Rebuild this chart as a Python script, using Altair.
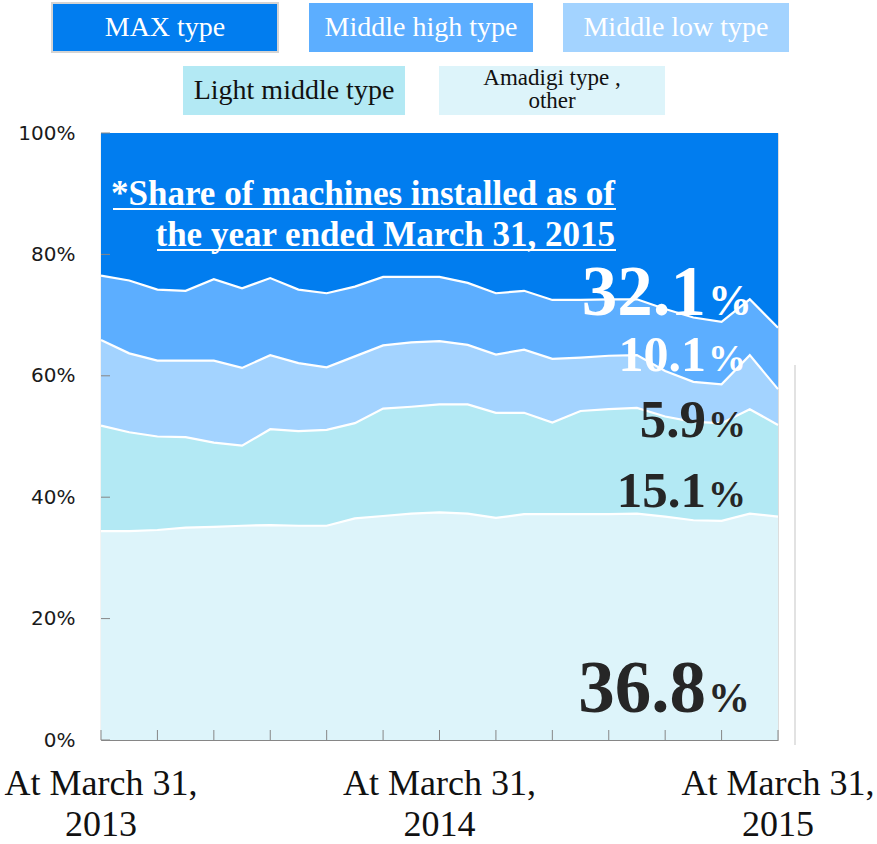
import altair as alt
import pandas as pd

# ---- data (monthly, March 2013 .. March 2015) ----
month_index = list(range(25))
categories = ["MAX type", "Middle high type", "Middle low type",
              "Light middle type", "Amadigi type , other"]
max_type = [23.5, 24.3, 25.8, 26.0, 24.1, 25.6, 23.9, 25.8, 26.4, 25.3, 23.7, 23.7, 23.7,
            24.7, 26.4, 26.0, 27.5, 27.5, 27.4, 27.4, 29.0, 30.4, 31.1, 27.4, 32.1]
middle_high = [10.6, 12.0, 11.7, 11.5, 13.4, 13.1, 12.7, 12.1, 12.2, 11.5, 11.3, 10.8, 10.6,
               10.2, 10.1, 9.7, 9.7, 9.5, 9.3, 9.2, 10.2, 10.6, 10.3, 9.2, 10.1]
middle_low = [14.1, 13.0, 12.5, 12.6, 13.5, 12.8, 12.2, 11.2, 10.3, 11.0, 10.4, 10.6, 10.4,
              9.8, 9.6, 10.4, 10.5, 8.8, 8.8, 8.7, 7.5, 6.6, 6.4, 8.9, 5.9]
light_middle = [17.4, 16.3, 15.4, 14.9, 13.9, 13.2, 15.8, 15.6, 15.8, 15.7, 17.7, 17.6, 17.8,
                18.0, 17.3, 16.7, 15.1, 17.0, 17.3, 17.4, 16.5, 16.2, 16.1, 17.2, 15.1]
amadigi = [34.4, 34.4, 34.6, 35.0, 35.1, 35.3, 35.4, 35.3, 35.3, 36.5, 36.9, 37.3, 37.5,
           37.3, 36.6, 37.2, 37.2, 37.2, 37.2, 37.3, 36.8, 36.2, 36.1, 37.3, 36.8]
x_tick_values = list(range(0, 25, 2))
y_tick_values = [0, 0.2, 0.4, 0.6, 0.8, 1.0]
x_label_pos = [0, 12, 24]
x_label_text = ["At March 31,\n2013", "At March 31,\n2014", "At March 31,\n2015"]
note_lines = ["*Share of machines installed as of", "the year ended March 31, 2015"]
legend_labels = ["MAX type", "Middle high type", "Middle low type",
                 "Light middle type", "Amadigi type ,\nother"]

series = [max_type, middle_high, middle_low, light_middle, amadigi]
colors = ["#017DEF", "#5CAEFF", "#A3D3FF", "#B3E9F4", "#DDF4FA"]

rows = []
for ci, (cat, vals) in enumerate(zip(categories, series)):
    for m, v in zip(month_index, vals):
        rows.append({"month": m, "type": cat, "share": v, "ord": 4 - ci})
df = pd.DataFrame(rows)

W, H = 677, 607
xs = alt.Scale(domain=[0, 24], nice=False, zero=False)
ys = alt.Scale(domain=[0, 1], nice=False)
AX = "#868686"

area = alt.Chart(df).mark_area(opacity=1, interpolate="linear").encode(
    x=alt.X("month:Q", scale=xs,
            axis=alt.Axis(labels=False, ticks=False, grid=False, title=None,
                          domainColor=AX, domainWidth=1.2)),
    y=alt.Y("share:Q", stack="normalize", scale=ys,
            axis=alt.Axis(format=".0%", values=y_tick_values, ticks=False, grid=False,
                          title=None, domainColor=AX, domainWidth=1.2,
                          labelFont="DejaVu Sans", labelFontSize=20, labelColor="#1a1a1a",
                          labelPadding=26)),
    color=alt.Color("type:N", scale=alt.Scale(domain=categories, range=colors), legend=None),
    order=alt.Order("ord:Q"),
)

# white boundary lines on top of each stacked band
bounds = alt.Chart(df).transform_joinaggregate(
    total="sum(share)", groupby=["month"]
).transform_window(
    cum="sum(share)", groupby=["month"], sort=[alt.SortField("ord")], frame=[None, 0]
).transform_calculate(
    top="datum.cum / datum.total"
).transform_filter("datum.ord < 4").mark_line(color="white", strokeWidth=2.2).encode(
    x=alt.X("month:Q", scale=xs),
    y=alt.Y("top:Q", scale=ys),
    detail="type:N",
)

xt = alt.Chart(pd.DataFrame({"m": x_tick_values})).mark_rule(color=AX, strokeWidth=1).encode(
    x=alt.X("m:Q", scale=xs), y=alt.value(H), y2=alt.value(H - 10))
yt = alt.Chart(pd.DataFrame({"v": y_tick_values})).mark_rule(color=AX, strokeWidth=1).encode(
    y=alt.Y("v:Q", scale=ys), x=alt.value(0), x2=alt.value(9))

xl = alt.Chart(pd.DataFrame({"m": x_label_pos, "t": x_label_text})).mark_text(
    font="Liberation Serif", fontSize=36, lineBreak="\n", lineHeight=41,
    align="center", baseline="alphabetic", color="#111111"
).encode(x=alt.X("m:Q", scale=xs), y=alt.value(662), text="t:N")

layers = [area, bounds, xt, yt, xl]

# note text (underlined)
note_y = [72, 113]
for line, yy in zip(note_lines, note_y):
    layers.append(alt.Chart(pd.DataFrame({"t": [line]})).mark_text(
        font="Liberation Serif", fontSize=35, fontWeight="bold", color="white",
        align="right", baseline="alphabetic").encode(
        x=alt.value(514), y=alt.value(yy), text="t:N"))
for (x0, yy) in [(12, 76), (56, 117)]:
    layers.append(alt.Chart(pd.DataFrame({"a": [0]})).mark_rule(color="white", strokeWidth=2).encode(
        x=alt.value(x0), x2=alt.value(515), y=alt.value(yy)))

# end-of-period share labels (from last values)
end_vals = [s[-1] for s in series]
end_base = [182, 238, 304, 374, 579]
end_size = [71, 50, 53, 51, 73]
pct_size = [44, 38, 38, 38, 42]
end_color = ["white", "white", "#262626", "#262626", "#262626"]
for v, yb, fs, ps, c in zip(end_vals, end_base, end_size, pct_size, end_color):
    layers.append(alt.Chart(pd.DataFrame({"t": [f"{v:.1f}"]})).mark_text(
        font="Liberation Serif", fontSize=fs, fontWeight="bold", color=c,
        align="right", baseline="alphabetic").encode(
        x=alt.value(605), y=alt.value(yb), text="t:N"))
    layers.append(alt.Chart(pd.DataFrame({"t": ["%"]})).mark_text(
        font="Liberation Serif", fontSize=ps, fontWeight="bold", color=c,
        align="left", baseline="alphabetic").encode(
        x=alt.value(607), y=alt.value(yb), text="t:N"))

# custom legend boxes
legend_boxes = [(-49, 177, -130, -81), (208, 432, -130, -81), (462, 688, -130, -81),
                (82, 304, -67, -18), (338, 564, -67, -18)]
legend_text_color = ["white", "white", "white", "#111111", "#111111"]
for i, ((x0, x1, y0, y1), col) in enumerate(zip(legend_boxes, colors)):
    stroke = {"stroke": "#d4d4d4", "strokeWidth": 2} if i == 0 else {}
    layers.append(alt.Chart(pd.DataFrame({"a": [0]})).mark_rect(color=col, **stroke).encode(
        x=alt.value(x0), x2=alt.value(x1), y=alt.value(y0), y2=alt.value(y1)))
    lab = legend_labels[i]
    two = "\n" in lab
    layers.append(alt.Chart(pd.DataFrame({"t": [lab]})).mark_text(
        font="Liberation Serif", fontSize=23 if two else 28, color=legend_text_color[i],
        lineBreak="\n", lineHeight=23,
        align="center", baseline="middle").encode(
        x=alt.value((x0 + x1) / 2), y=alt.value((y0 + y1) / 2 - (13 if two else 0)),
        text="t:N"))

# faint frame line at right
layers.append(alt.Chart(pd.DataFrame({"a": [0]})).mark_rule(color="#d9d9d9", strokeWidth=1.5).encode(
    x=alt.value(694), y=alt.value(232), y2=alt.value(612)))

chart = alt.layer(*layers).properties(
    width=W, height=H, autosize=alt.AutoSizeParams(type="none"),
    padding={"left": 101, "top": 133, "right": 99, "bottom": 104},
).configure_view(stroke=None).configure(background="white")

chart.save("out.html", embed_options={"renderer": "svg", "actions": False})
